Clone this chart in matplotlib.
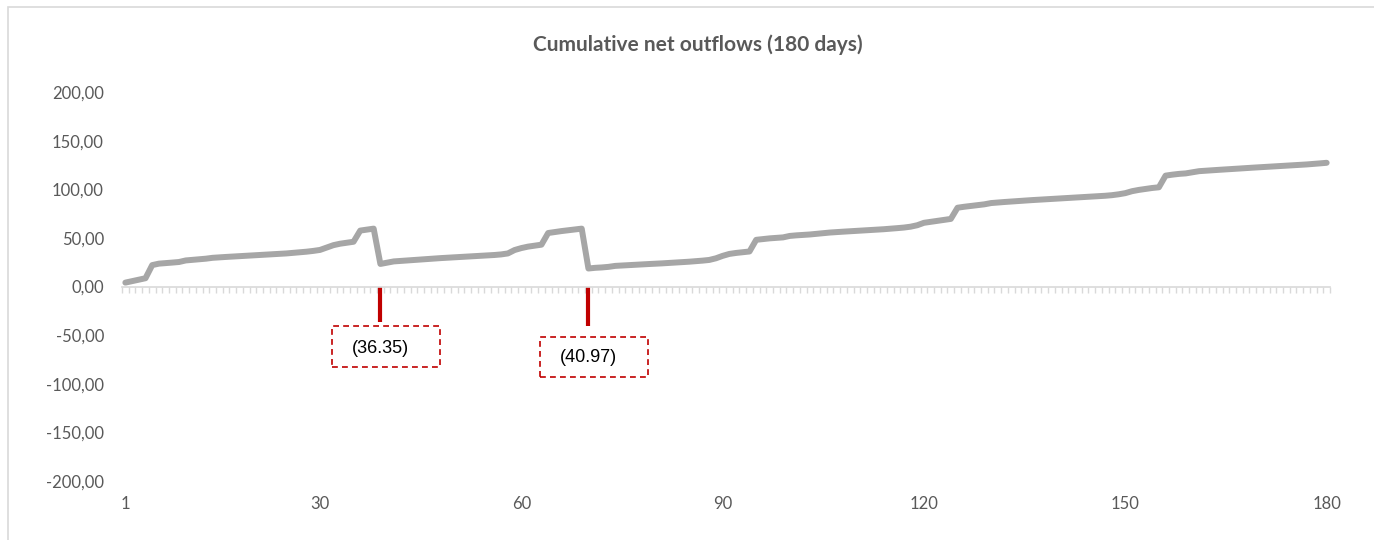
import matplotlib
matplotlib.use('Agg')
import matplotlib.pyplot as plt
import numpy as np
from matplotlib.patches import Rectangle
from matplotlib.ticker import FuncFormatter, FixedLocator
from matplotlib.transforms import ScaledTranslation

# cumulative net outflows, day 1..180
days = np.arange(1, 181)
cum_outflows = [
    4.0, 5.5, 7.0, 8.5, 22.0, 23.5, 24.0, 24.6, 25.2, 26.8,
    27.4, 28.0, 28.6, 29.5, 30.0, 30.4, 30.8, 31.2, 31.6, 32.0,
    32.4, 32.8, 33.2, 33.6, 34.0, 34.6, 35.2, 35.8, 36.6, 37.6,
    40.0, 42.5, 44.0, 45.0, 46.0, 57.5, 58.5, 59.5, 23.2, 24.5,
    25.8, 26.3, 26.8, 27.3, 27.8, 28.3, 28.8, 29.2, 29.6, 30.0,
    30.4, 30.8, 31.2, 31.6, 32.0, 32.4, 33.0, 34.0, 37.5, 39.5,
    41.0, 42.0, 43.0, 55.0, 56.0, 57.0, 57.8, 58.6, 59.5, 18.5,
    19.2, 19.6, 20.2, 21.2, 21.6, 22.0, 22.4, 22.8, 23.1, 23.4,
    23.8, 24.2, 24.6, 25.0, 25.5, 26.0, 26.6, 27.3, 29.0, 31.5,
    33.5, 34.5, 35.3, 36.0, 48.0, 48.8, 49.5, 50.0, 50.5, 52.0,
    52.6, 53.0, 53.5, 54.2, 55.0, 55.5, 56.0, 56.4, 56.8, 57.2,
    57.6, 58.0, 58.4, 58.9, 59.4, 60.0, 60.6, 61.5, 63.0, 65.5,
    66.5, 67.5, 68.5, 69.5, 81.0, 82.0, 82.8, 83.5, 84.5, 85.8,
    86.4, 86.9, 87.4, 87.9, 88.4, 88.8, 89.2, 89.6, 90.0, 90.4,
    90.8, 91.2, 91.6, 92.0, 92.4, 92.8, 93.3, 93.9, 94.8, 96.0,
    98.0, 99.3, 100.3, 101.3, 102.0, 114.0, 115.0, 115.8, 116.3, 117.5,
    118.6, 119.1, 119.6, 120.0, 120.4, 120.8, 121.3, 121.8, 122.2, 122.6,
    123.0, 123.4, 123.8, 124.2, 124.6, 125.0, 125.5, 126.0, 126.6, 127.2,
]

# drops marked with red bars
drop_days = [39, 70]
drop_values = [-36.35, -40.97]
drop_labels = ['(36.35)', '(40.97)']

x_ticks = [1, 30, 60, 90, 120, 150, 180]
y_ticks = [-200, -150, -100, -50, 0, 50, 100, 150, 200]

# label box geometry in pixels relative to bar end: (left, right, top, bottom, text_dy)
box_geom = [(-48, 60, 4, 45, 27), (-48, 60, 11, 51, 31.5)]

gray_txt = '#595959'
axis_col = '#D9D9D9'
red = '#C00000'

fig = plt.figure(figsize=(13.74, 5.40), dpi=100)
ax = fig.add_axes([122 / 1374, 1 - 481 / 540, (1330 - 122) / 1374, (481 - 92) / 540])

ax.plot(days, cum_outflows, color='#A6A6A6', lw=4.3, solid_capstyle='round',
        solid_joinstyle='round', zorder=3)
ax.vlines(drop_days, 0, drop_values, color=red, lw=3, zorder=2)

ax.set_xlim(0.5, 180.5)
ax.set_ylim(-200, 200)

for s in ['top', 'right', 'left']:
    ax.spines[s].set_visible(False)
ax.spines['bottom'].set_position(('data', 0))
ax.spines['bottom'].set_color(axis_col)
ax.spines['bottom'].set_linewidth(1.2)
ax.xaxis.set_major_locator(FixedLocator([]))
ax.xaxis.set_minor_locator(FixedLocator(np.arange(0.5, 181, 1)))
ax.tick_params(axis='x', which='minor', length=4, width=1, color=axis_col, direction='out')

ax.set_yticks(y_ticks)
ax.yaxis.set_major_formatter(FuncFormatter(lambda v, p: f'{v:.2f}'.replace('.', ',')))
ax.tick_params(axis='y', length=0, pad=13, labelsize=12, labelcolor=gray_txt)
for lab in ax.get_yticklabels():
    lab.set_fontfamily('Lato')

sec = ax.secondary_xaxis('bottom')
sec.set_xticks(x_ticks)
sec.spines['bottom'].set_visible(False)
sec.tick_params(length=0, pad=11, labelsize=12, labelcolor=gray_txt)
for lab in sec.get_xticklabels():
    lab.set_fontfamily('Lato')

for d, v, lbl, (l, r, t, b, tdy) in zip(drop_days, drop_values, drop_labels, box_geom):
    tr = fig.dpi_scale_trans + ScaledTranslation(d, v, ax.transData)
    ax.add_patch(Rectangle((l / 100, -b / 100), (r - l) / 100, (b - t) / 100,
                           transform=tr, fill=False, ec=red, lw=1.2,
                           ls=(0, (3.5, 2.5)), clip_on=False))
    ax.text(0, -tdy / 100, lbl, transform=tr, ha='center', va='center',
            fontsize=13, family='Liberation Sans', color='black')

fig.text(698 / 1374, 1 - 45 / 540, 'Cumulative net outflows (180 days)',
         ha='center', va='center', fontsize=15, fontweight='bold',
         family='Lato', color=gray_txt)

# chart area border (only the left and top edges are inside the picture)
fig.add_artist(Rectangle((8 / 1374, -0.1), 1.0, 1.1 - 7 / 540, transform=fig.transFigure,
                         fill=False, ec=axis_col, lw=1.2))

fig.savefig('out.png', dpi=100)
